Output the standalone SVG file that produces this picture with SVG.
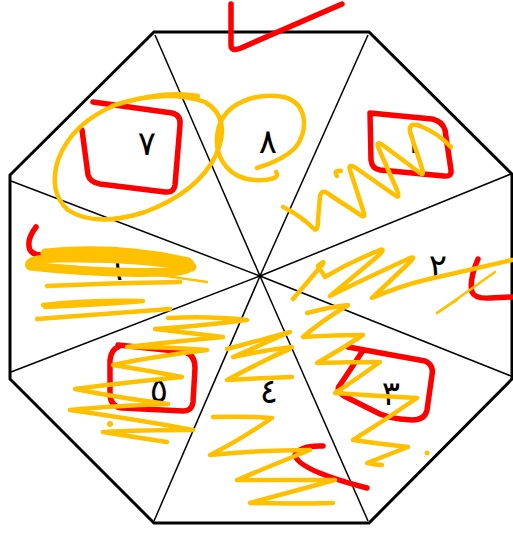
<svg xmlns="http://www.w3.org/2000/svg" width="513" height="534" viewBox="0 0 513 534">
<style>
.oct{fill:#fff;stroke:#000;stroke-width:3;stroke-linejoin:miter}
.spoke{stroke:#000;stroke-width:1.5;fill:none}
.lbl{font-family:"DejaVu Sans",sans-serif;font-size:34px;fill:#000;text-anchor:middle}
.r{fill:none;stroke:#f00;stroke-width:5.5;stroke-linecap:round;stroke-linejoin:round}
.y{fill:none;stroke:#ffc000;stroke-width:4.5;stroke-linecap:round;stroke-linejoin:round}
.yt{fill:none;stroke:#ffc000;stroke-width:2.5;stroke-linecap:round;stroke-linejoin:round}
</style>
<rect width="513" height="534" fill="#fff"/>
<g id="octagon">
<polygon class="oct" points="154,32 369,32 512,174 512,379 369,523 154,523 10,379 10,175"/>
</g>
<g id="connectors">
<line class="spoke" x1="260" y1="276" x2="155" y2="35"/>
<line class="spoke" x1="260" y1="276" x2="368" y2="35"/>
<line class="spoke" x1="260" y1="276" x2="511" y2="174"/>
<line class="spoke" x1="260" y1="276" x2="511" y2="376"/>
<line class="spoke" x1="260" y1="276" x2="368" y2="521"/>
<line class="spoke" x1="260" y1="276" x2="154" y2="521"/>
<line class="spoke" x1="260" y1="276" x2="11" y2="372"/>
<line class="spoke" x1="260" y1="276" x2="11" y2="181"/>
</g>
<g id="sector-1"><text class="lbl" x="413" y="153">١</text></g>
<g id="sector-2"><text class="lbl" x="438" y="278">٢</text></g>
<g id="sector-3"><text class="lbl" x="391" y="405">٣</text></g>
<g id="sector-4"><text class="lbl" x="269" y="403">٤</text></g>
<g id="sector-5"><text class="lbl" x="159" y="402">٥</text></g>
<g id="sector-6"><text class="lbl" x="114" y="280">٦</text></g>
<g id="sector-7"><text class="lbl" x="147" y="155">٧</text></g>
<g id="sector-8"><text class="lbl" x="268" y="153">٨</text></g>
<g id="red-marks">
<path class="r" d="M231,4 L231,45 Q231,52 241,48 L342,4"/>
<path class="r" d="M93,102 L172,113 Q181,115 180,125 L175,185 Q174,193 165,192 L100,184 Q90,182 88,175 L82,130"/>
<path class="r" d="M370,113 L432,119 Q442,121 445,130 L451,170 Q452,177 444,176 L380,170 Q372,169 371,160 Z"/>
<path class="r" d="M478,259 Q469,280 472,292 Q475,299 490,298 L512,297"/>
<path class="r" d="M36,227 Q26,240 30,250 Q33,255 42,255"/>
<path class="r" d="M118,345 L185,352 Q195,355 195,368 L193,402 Q192,411 183,411 L122,408 Q111,407 110,395 L110,360 Q111,350 118,347"/>
<path class="r" d="M348,347 L425,361 Q434,365 432,375 L427,410 Q425,420 412,420 L400,419 Q390,418 380,414 L344,396 Q335,390 340,385 L362,352"/>
<path class="r" d="M323,446 Q300,445 295,455 Q298,470 367,488"/>
</g>
<g id="yellow-marks">
<path class="y" d="M112,106 Q165,88 205,102 Q232,118 216,155 Q198,192 145,212 Q95,228 68,210 Q48,192 58,160 Q72,122 118,104 Q165,90 198,96"/>
<path class="y" d="M276,172 Q281,179 262,180 C232,182 212,160 218,130 C224,102 258,92 284,97 C309,104 308,133 295,148 C285,158 270,164 257,168"/>
<path class="y" d="M283,207 Q300,215 314,229 Q318,232 318,220 L320,196 Q322,188 330,195 L362,216 Q366,218 363,210 L350,170 Q348,163 356,168 L396,196 Q400,199 397,190 L378,147 Q376,140 384,146 L420,173 Q425,177 421,165 L410,132 Q408,122 420,126 Q438,133 451,147"/>
<path class="y" d="M337,176 Q333,170 341,171"/>
<path class="y" d="M293,299 Q305,285 322,265 Q326,259 318,266 L325,277 Q350,262 380,250 Q386,248 378,256 L330,296 Q360,281 410,258 Q416,256 410,262 L372,298 Q400,286 425,280 Q460,272 512,260"/>
<path class="yt" d="M437,313 Q470,290 495,272"/>
<path class="y" style="stroke-width:9" d="M45,253 Q120,246 188,262 Q198,270 168,272 Q100,274 30,266 Q26,259 60,258 Q140,257 192,267"/>
<path class="yt" d="M28,264 Q120,268 207,282"/>
<path class="y" d="M47,286 Q110,283 180,282"/>
<path class="y" d="M43,305 Q90,300 143,301 Q110,304 45,307"/>
<path class="y" d="M37,319 Q100,314 170,309"/>
<path class="y" d="M168,318 Q210,316 247,320 Q200,326 155,329 Q190,333 223,337 Q170,342 127,347 Q170,347 207,350 Q150,357 113,365 Q150,371 182,377 Q120,383 75,389 Q120,398 168,404 Q110,406 70,410 Q140,420 193,430 Q140,430 103,432 Q140,438 167,442"/>
<circle cx="110" cy="424" r="3" fill="#ffc000"/>
<path class="y" d="M227,349 Q260,340 290,332 Q260,345 233,357 Q265,350 292,347 Q255,365 227,380 Q260,378 292,377"/>
<path class="yt" d="M233,377 Q262,362 290,350"/>
<path class="y" d="M213,417 Q245,416 272,418 Q240,440 210,455 Q260,450 310,450 Q270,466 237,480 Q290,480 335,480 Q290,492 250,503 Q290,504 333,503"/>
<path class="y" d="M307,313 Q330,307 348,305 Q320,322 303,337 Q335,335 363,335 Q340,350 317,363 Q350,362 380,362 Q355,380 335,393 Q375,396 417,398 Q385,420 353,440 Q380,444 408,447 Q385,456 367,463 Q375,465 382,465"/>
<circle cx="427" cy="453" r="2.5" fill="#ffc000"/>
<path class="yt" d="M437,313 Q447,306 457,300"/>
</g>
</svg>
